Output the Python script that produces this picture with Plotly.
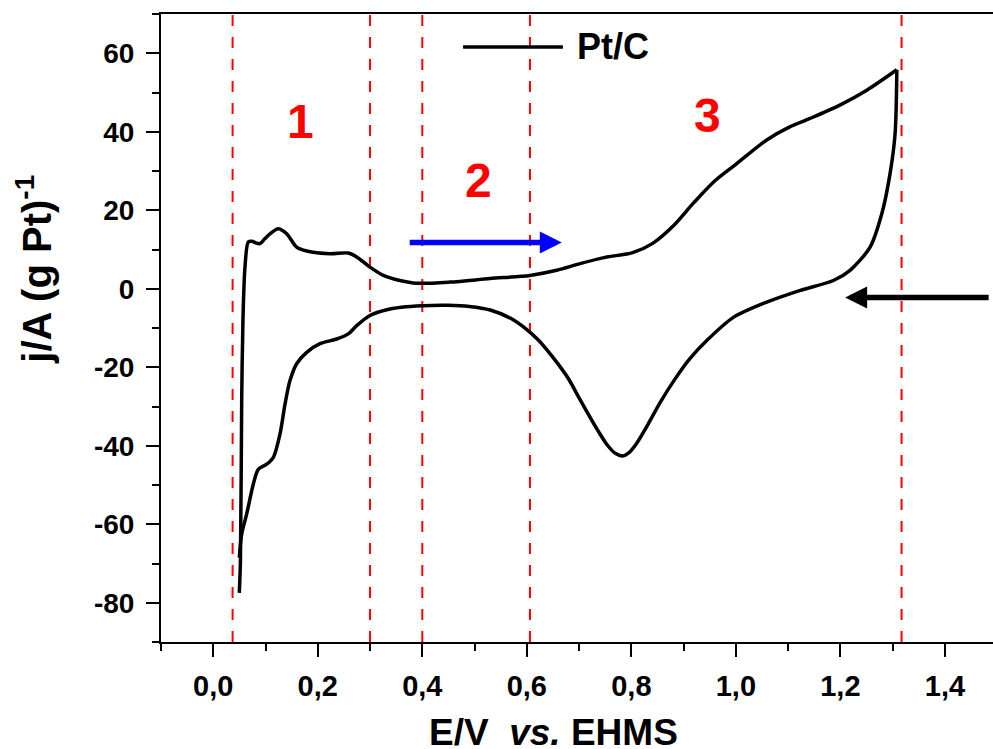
import plotly.graph_objects as go

# ---- data ----
# anodic (forward) sweep, E / V vs EHMS
E_fwd = [0.0498, 0.052, 0.0544, 0.0568, 0.0607, 0.067, 0.074, 0.083, 0.0894, 0.099,
         0.1085, 0.1244, 0.1405, 0.1596, 0.1788, 0.2234, 0.2584, 0.2744, 0.2999, 0.3254,
         0.3573, 0.3893, 0.4531, 0.5296, 0.6061, 0.6572, 0.7018, 0.7497, 0.8027, 0.84,
         0.88, 0.92, 0.96, 1.0, 1.059, 1.104, 1.142, 1.199, 1.2505, 1.308]
j_fwd = [-77.5, -69.4, -28.5, -8.0, 5.5, 11.9, 12.1, 11.6, 11.5, 12.8,
         14.0, 15.3, 14.0, 10.6, 9.6, 8.9, 9.1, 8.1, 5.5, 3.4,
         2.1, 1.4, 1.7, 2.6, 3.4, 4.7, 6.4, 8.0, 9.2, 11.5,
         16.0, 22.0, 27.5, 31.7, 37.9, 41.3, 43.4, 46.8, 50.6, 55.8]
# cathodic (reverse) sweep
E_rev = [1.308, 1.3047, 1.2951, 1.2792, 1.2568, 1.2185, 1.1866, 1.1234, 1.0591, 0.9952,
         0.9443, 0.912, 0.884, 0.855, 0.830, 0.810, 0.795, 0.783, 0.770, 0.755,
         0.740, 0.720, 0.700, 0.680, 0.660, 0.640, 0.620, 0.600, 0.570, 0.530,
         0.490, 0.450, 0.400, 0.360, 0.330, 0.2999, 0.2744, 0.2584, 0.2362, 0.2042,
         0.1788, 0.1596, 0.1468, 0.1373, 0.1277, 0.1148, 0.1022, 0.0861, 0.0766, 0.0639,
         0.0544, 0.0498]
j_rev = [55.8, 39.6, 29.4, 19.1, 10.6, 4.7, 2.1, -0.4, -3.4, -7.3,
         -13.2, -17.8, -22.9, -29.0, -35.0, -39.4, -41.8, -42.6, -42.0, -40.0,
         -37.0, -32.5, -27.8, -23.0, -19.2, -15.8, -12.8, -10.4, -7.6, -5.4,
         -4.5, -4.2, -4.3, -4.7, -5.4, -6.8, -9.4, -11.5, -12.8, -14.0,
         -16.2, -19.1, -23.4, -29.4, -37.0, -43.0, -44.7, -46.0, -49.8, -57.4,
         -62.5, -68.5]

series_name = "Pt/C"
region_bounds = [0.037, 0.3, 0.4, 0.606, 1.317]
region_labels = ["1", "2", "3"]
region_label_pos = [(0.166, 42.5), (0.507, 27.6), (0.945, 44.2)]
sweep_arrows = [  # (tail E, head E, j, colour)
    (0.373, 0.667, 11.8, "#0000ff"),
    (1.4865, 1.209, -2.2, "#000000"),
]

X_TICKS = [0.0, 0.2, 0.4, 0.6, 0.8, 1.0, 1.2, 1.4]
X_TICK_LABELS = ["0,0", "0,2", "0,4", "0,6", "0,8", "1,0", "1,2", "1,4"]
Y_TICKS = [-80, -60, -40, -20, 0, 20, 40, 60]
Y_TICK_LABELS = ["-80", "-60", "-40", "-20", "0", "20", "40", "60"]

FONT = "Liberation Sans, Arial, sans-serif"

fig = go.Figure()
curve_line = dict(color="black", width=3.5, shape="spline", smoothing=0.8)
fig.add_trace(go.Scatter(x=E_fwd, y=j_fwd, mode="lines", name=series_name,
                         line=curve_line, showlegend=False))
fig.add_trace(go.Scatter(x=E_rev, y=j_rev, mode="lines", name=series_name,
                         line=curve_line, showlegend=False))

for xb in region_bounds:
    fig.add_shape(type="line", x0=xb, x1=xb, y0=-90, y1=70, xref="x", yref="y",
                  line=dict(color="#ff0000", width=2, dash="11px,11px"), layer="below")

for lab, (lx, ly) in zip(region_labels, region_label_pos):
    fig.add_annotation(x=lx, y=ly, text=lab, showarrow=False, xref="x", yref="y",
                       xanchor="center", yanchor="middle",
                       font=dict(family=FONT, size=48, color="#ff0000", weight="bold"))

for tx, hx, ay, col in sweep_arrows:
    fig.add_annotation(x=hx, y=ay, ax=tx, ay=ay, xref="x", yref="y", axref="x", ayref="y",
                       text="", showarrow=True, arrowhead=2, arrowsize=0.8,
                       arrowwidth=5.5, arrowcolor=col, standoff=0)

# legend drawn manually (long sample line as in the original)
fig.add_shape(type="line", x0=0.478, x1=0.669, y0=61.6, y1=61.6, xref="x", yref="y",
              line=dict(color="black", width=3.5))
fig.add_annotation(x=0.692, y=61.6, text=series_name, showarrow=False, xanchor="left",
                   yanchor="middle", xref="x", yref="y",
                   font=dict(family=FONT, size=36, color="black", weight="bold"))

# axis titles
fig.add_annotation(x=-0.1526, y=0.593, xref="paper", yref="paper", textangle=-90,
                   xanchor="center", yanchor="middle",
                   text="j/A (g Pt)<sup>-1</sup>", showarrow=False,
                   font=dict(family=FONT, size=40, color="black", weight="bold"))
fig.add_annotation(x=0.4718, y=-0.1437, xref="paper", yref="paper",
                   xanchor="center", yanchor="middle",
                   text="E/V  <i>vs.</i> EHMS", showarrow=False,
                   font=dict(family=FONT, size=37, color="black", weight="bold"))

axis_common = dict(showgrid=False, zeroline=False, showline=True, linecolor="black",
                   linewidth=2, ticks="outside", ticklen=13, tickwidth=2, tickcolor="black")

fig.update_xaxes(range=[-0.1, 1.492], tickvals=X_TICKS, ticktext=X_TICK_LABELS,
                 mirror=True, ticklabelstandoff=4,
                 tickfont=dict(family=FONT, size=29, color="black", weight="bold"),
                 minor=dict(dtick=0.1, tick0=0, ticks="outside", ticklen=7, tickwidth=2,
                            tickcolor="black"),
                 **axis_common)
fig.update_yaxes(range=[-90, 70], tickvals=Y_TICKS, ticktext=Y_TICK_LABELS,
                 ticklabelstandoff=6,
                 tickfont=dict(family=FONT, size=28, color="black", weight="bold"),
                 minor=dict(dtick=10, tick0=0, ticks="outside", ticklen=7, tickwidth=2,
                            tickcolor="black"),
                 **axis_common)

fig.update_layout(width=993, height=749, plot_bgcolor="white", paper_bgcolor="white",
                  margin=dict(l=161, r=0, t=14, b=107), showlegend=False)

fig.write_html("out.html", config={"displayModeBar": False},
               post_script="document.body.style.margin='0';document.body.style.overflow='hidden';")
